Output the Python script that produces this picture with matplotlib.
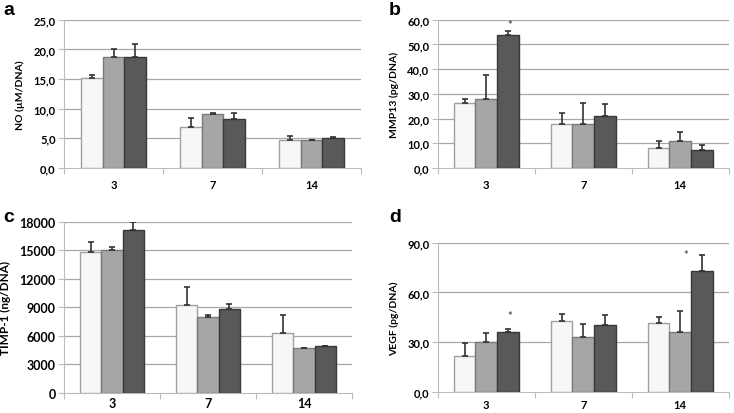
import numpy as np
import matplotlib
matplotlib.use('Agg')
import matplotlib.pyplot as plt
from matplotlib.ticker import FuncFormatter, FixedLocator

plt.rcParams['font.family'] = ['Lato', 'DejaVu Sans']
plt.rcParams['font.weight'] = 'bold'

days = ['3', '7', '14']

# panel a - NO
no_white = [15.2, 6.9, 4.75]
no_white_err = [0.5, 1.6, 0.6]
no_gray = [18.65, 9.05, 4.7]
no_gray_err = [1.45, 0.15, 0.1]
no_dark = [18.7, 8.3, 5.05]
no_dark_err = [2.15, 1.05, 0.15]

# panel b - MMP13
mmp_white = [26.2, 18.0, 8.1]
mmp_white_err = [1.8, 4.3, 2.7]
mmp_gray = [27.9, 17.6, 11.0]
mmp_gray_err = [9.7, 8.6, 3.4]
mmp_dark = [53.9, 21.0, 7.3]
mmp_dark_err = [1.4, 5.0, 1.9]

# panel c - TIMP-1
timp_white = [14800, 9200, 6250]
timp_white_err = [1100, 1900, 1900]
timp_gray = [15080, 7980, 4680]
timp_gray_err = [250, 180, 0]
timp_dark = [17150, 8820, 4880]
timp_dark_err = [850, 570, 0]

# panel d - VEGF
vegf_white = [21.5, 42.6, 41.8]
vegf_white_err = [8.0, 4.6, 3.2]
vegf_gray = [29.9, 32.9, 36.2]
vegf_gray_err = [5.9, 7.9, 12.4]
vegf_dark = [36.4, 40.2, 72.9]
vegf_dark_err = [1.4, 6.0, 9.9]

W, H = 734, 414
fig = plt.figure(figsize=(W / 100, H / 100), dpi=100)


def make_ax(l, r, t, b):
    return fig.add_axes([l / W, 1 - b / H, (r - l) / W, (b - t) / H])


fills = ['#f7f7f7', '#a6a6a6', '#595959']
edges = ['#a0a0a0', '#7a7a7a', '#383838']


def panel(ax, series, errs, ymax, step, ylabel, comma, lab_size=7.5, tick_size=8, xpad=8):
    x = np.arange(len(days))
    w = 0.222
    for i, (vals, err) in enumerate(zip(series, errs)):
        pos = x + (i - 1) * w
        ax.bar(pos, vals, w, color=fills[i], edgecolor=edges[i], linewidth=1.0, zorder=3)
        ax.errorbar(pos, vals, yerr=[np.zeros(len(err)), err], fmt='none',
                    ecolor='#333333', elinewidth=1.2, capsize=2.5, capthick=1.2, zorder=4)
    ax.set_xlim(-0.5, len(days) - 0.5)
    ax.set_ylim(0, ymax)
    ticks = np.arange(0, ymax + step / 2, step)
    ax.set_yticks(ticks)
    if comma:
        ax.yaxis.set_major_formatter(FuncFormatter(lambda v, p: ('%.1f' % v).replace('.', ',')))
    else:
        ax.yaxis.set_major_formatter(FuncFormatter(lambda v, p: '%d' % v))
    for t in ticks[1:]:
        ax.axhline(t, color='#a8a8a8', linewidth=0.9, zorder=1)
    ax.set_xticks(x)
    ax.set_xticklabels(days)
    ax.xaxis.set_minor_locator(FixedLocator(np.arange(-0.5, len(days), 1.0)))
    ax.tick_params(axis='x', which='major', length=0, pad=xpad, labelsize=tick_size)
    ax.tick_params(axis='x', which='minor', length=4, color='#bbbbbb', width=0.8)
    ax.tick_params(axis='y', length=4, color='#bbbbbb', width=0.8, labelsize=tick_size, pad=2)
    for s in ['top', 'right']:
        ax.spines[s].set_visible(False)
    ax.spines['left'].set_color('#bbbbbb')
    ax.spines['bottom'].set_color('#bbbbbb')
    ax.set_ylabel(ylabel, fontsize=lab_size, fontweight='bold', labelpad=6)


ax_a = make_ax(64, 361, 20.7, 169)
panel(ax_a, [no_white, no_gray, no_dark], [no_white_err, no_gray_err, no_dark_err],
      25, 5, 'NO (µM/DNA)', True)

ax_b = make_ax(437.7, 728.7, 20.7, 169)
panel(ax_b, [mmp_white, mmp_gray, mmp_dark], [mmp_white_err, mmp_gray_err, mmp_dark_err],
      60, 10, 'MMP13 (pg/DNA)', True)
ax_b.text(0.24, 58.0, '*', ha='center', va='center', fontsize=8, color='#555555')

ax_c = make_ax(64, 352, 223, 393.7)
panel(ax_c, [timp_white, timp_gray, timp_dark], [timp_white_err, timp_gray_err, timp_dark_err],
      18000, 3000, 'TIMP-1 (ng/DNA)', False, lab_size=8.5, tick_size=9, xpad=3)

ax_d = make_ax(437.7, 728.7, 243.7, 393)
panel(ax_d, [vegf_white, vegf_gray, vegf_dark], [vegf_white_err, vegf_gray_err, vegf_dark_err],
      90, 30, 'VEGF (pg/DNA)', True, xpad=5)
ax_d.text(0.24, 46.0, '*', ha='center', va='center', fontsize=8, color='#555555')
ax_d.text(2.06, 83.0, '*', ha='center', va='center', fontsize=8, color='#555555')

for lab, (px, py) in zip('abcd', [(3, 15), (389, 15), (3, 222), (389, 222)]):
    fig.text(px / W, 1 - py / H, lab, fontsize=14, fontweight='bold',
             family=['Liberation Sans', 'DejaVu Sans'], ha='left', va='baseline')

fig.savefig('out.png', dpi=100, facecolor='white')
